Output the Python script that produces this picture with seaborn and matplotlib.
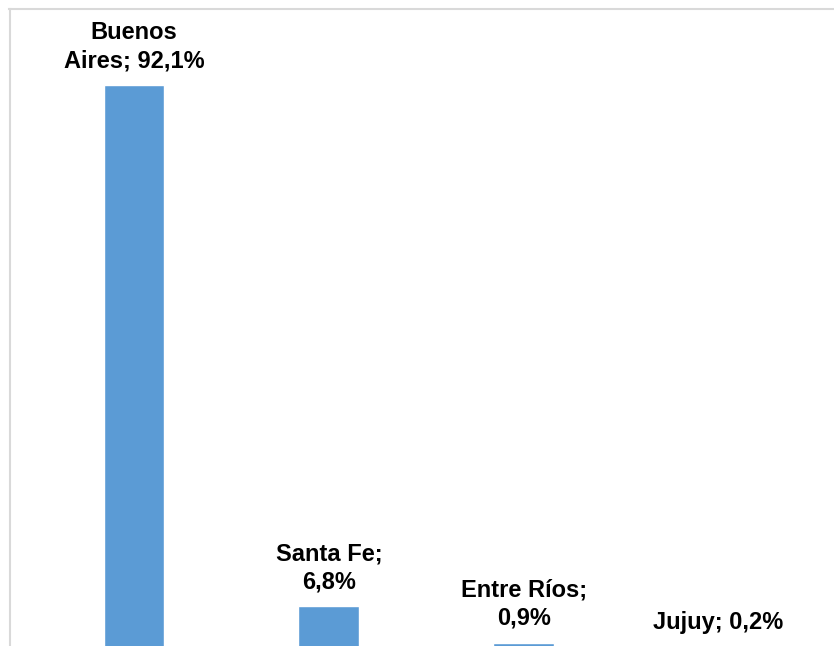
import matplotlib
matplotlib.use("Agg")
import matplotlib.pyplot as plt
import seaborn as sns
import pandas as pd

provinces = ["Buenos Aires", "Santa Fe", "Entre Ríos", "Jujuy"]
shares = [92.1, 6.8, 0.9, 0.2]
labels = ["Buenos\nAires; 92,1%", "Santa Fe;\n6,8%", "Entre Ríos;\n0,9%", "Jujuy; 0,2%"]

sns.set_theme(style="white")
plt.rcParams["font.family"] = ["Liberation Sans", "DejaVu Sans"]

df = pd.DataFrame({"prov": provinces, "share": shares})

fig = plt.figure(figsize=(8.34, 6.46), dpi=100)
W, H = 834, 646
left_px, right_px, top_px, bottom_px = 9.5, 834, 9, 648
ax = fig.add_axes([left_px / W, (H - bottom_px) / H,
                   (right_px - left_px) / W, (bottom_px - top_px) / H])

sns.barplot(data=df, x="prov", y="share", color="#5B9BD5", width=0.313,
            saturation=1, ax=ax)

ax.set_xlim(-0.639, 3.593)
ax.set_ylim(0, 104.6)
ax.set_xlabel("")
ax.set_ylabel("")
ax.set_xticks([])
ax.set_yticks([])
for s in ["right", "bottom"]:
    ax.spines[s].set_visible(False)
for s in ["top", "left"]:
    ax.spines[s].set_color("#d9d9d9")
    ax.spines[s].set_linewidth(1.5)

for i, (v, lab) in enumerate(zip(shares, labels)):
    ax.annotate(lab, xy=(i, v), xytext=(0, 13), textcoords="offset points",
                ha="center", va="baseline", fontsize=17, fontweight="bold",
                color="black", linespacing=1.3, multialignment="center")

fig.savefig("out.png", dpi=100)
